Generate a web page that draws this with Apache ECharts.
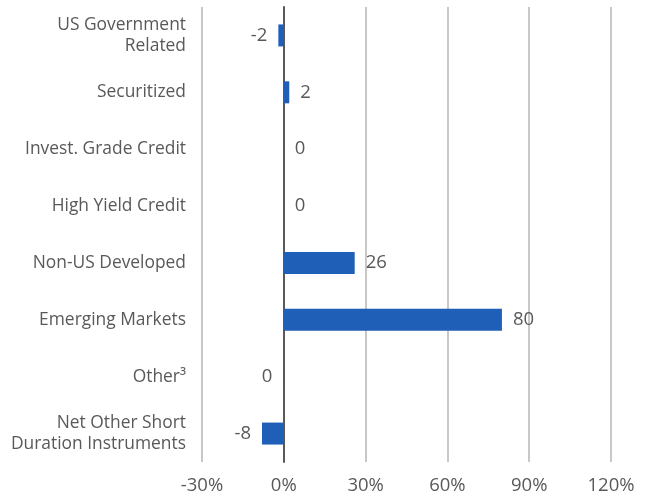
<!DOCTYPE html>
<html>
<head>
<meta charset="utf-8">
<script src="https://cdn.jsdelivr.net/npm/echarts@6/dist/echarts.min.js"></script>
<style>
  html, body { margin: 0; padding: 0; background: #fff; }
  #main { width: 652px; height: 497px; }
</style>
</head>
<body>
<div id="main"></div>
<script>
// categories top to bottom
var categories = [
  'US Government\nRelated',
  'Securitized',
  'Invest. Grade Credit',
  'High Yield Credit',
  'Non-US Developed',
  'Emerging Markets',
  'Other³',
  'Net Other Short\nDuration Instruments'
];
// values in %
var values = [-2, 2, 0, 0, 26, 80, -0.2, -8];
var xTicks = [-30, 0, 30, 60, 90, 120];

var font = '"Open Sans", "Noto Sans", sans-serif';
var chart = echarts.init(document.getElementById('main'));

var data = values.map(function (v) {
  return {
    value: v,
    label: { position: v < 0 ? 'left' : 'right' }
  };
});

var option = {
  animation: false,
  grid: { left: 202, right: 41, top: 7, bottom: 35, containLabel: false },
  xAxis: {
    type: 'value',
    min: xTicks[0],
    max: xTicks[xTicks.length - 1],
    interval: 30,
    axisLine: { show: false },
    axisTick: { show: false },
    splitLine: { lineStyle: { color: '#c8c8c8', width: 2 } },
    axisLabel: {
      color: '#595959', fontSize: 18.5, fontFamily: font, margin: 14,
      formatter: '{value}%'
    }
  },
  yAxis: {
    type: 'category',
    inverse: true,
    data: categories,
    axisLine: { onZero: true, lineStyle: { color: '#595959', width: 2 } },
    axisTick: { show: false },
    axisLabel: {
      color: '#595959', fontSize: 17.4, fontFamily: font, margin: 16,
      lineHeight: 21, align: 'right'
    }
  },
  series: [{
    type: 'bar',
    data: data,
    barWidth: 22,
    itemStyle: { color: '#1f5fb8' },
    label: {
      show: true,
      distance: 11,
      color: '#595959',
      fontSize: 18.5,
      fontFamily: font,
      formatter: function (p) { return String(Math.round(p.value) + 0); }
    }
  }]
};

chart.setOption(option);
</script>
</body>
</html>
